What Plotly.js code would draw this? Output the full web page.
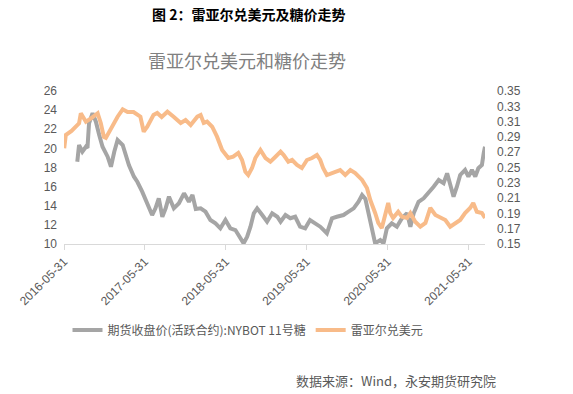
<!DOCTYPE html>
<html><head><meta charset="utf-8">
<script src="https://cdn.plot.ly/plotly-3.0.1.min.js"></script>
<style>body{margin:0;background:#fff}#c{width:573px;height:394px}</style>
</head><body><div id="c"></div>
<script>
const sugarDates = ["2016-07-30","2016-08-07","2016-08-22","2016-09-07","2016-09-14","2016-09-21","2016-10-07","2016-10-22","2016-11-06","2016-11-21","2016-12-14","2016-12-29","2017-01-13","2017-01-28","2017-02-20","2017-03-05","2017-03-20","2017-04-12","2017-04-27","2017-05-19","2017-06-11","2017-07-03","2017-07-18","2017-08-02","2017-08-18","2017-09-02","2017-09-17","2017-10-09","2017-11-01","2017-11-24","2017-12-16","2018-01-01","2018-01-16","2018-02-07","2018-03-01","2018-03-23","2018-04-15","2018-05-07","2018-05-30","2018-06-21","2018-07-14","2018-08-05","2018-08-20","2018-09-05","2018-09-20","2018-10-05","2018-10-20","2018-11-12","2018-12-04","2018-12-27","2019-01-19","2019-02-03","2019-02-25","2019-03-19","2019-04-10","2019-05-02","2019-05-25","2019-06-16","2019-07-09","2019-08-01","2019-08-31","2019-09-23","2019-10-15","2019-11-14","2019-12-07","2019-12-30","2020-01-21","2020-02-06","2020-02-21","2020-03-07","2020-03-22","2020-04-05","2020-04-28","2020-05-13","2020-05-28","2020-06-19","2020-07-12","2020-08-04","2020-08-27","2020-09-11","2020-09-26","2020-10-18","2020-11-10","2020-12-02","2020-12-25","2021-01-17","2021-02-08","2021-02-24","2021-03-10","2021-03-25","2021-04-09","2021-04-24","2021-05-16","2021-05-31","2021-06-16","2021-07-01","2021-07-15","2021-07-31","2021-08-08","2021-08-14"];
const sugarValues = [18.61,20.35,19.65,20.17,20.04,22.62,23.67,22.79,21.40,20.17,19.13,18.08,19.65,20.88,20.35,19.31,18.26,17.04,16.51,15.47,14.26,13.03,13.73,14.78,12.85,13.73,14.95,13.73,14.26,15.30,14.42,15.12,13.66,13.73,13.38,12.51,12.16,11.64,12.51,11.64,11.46,10.60,10.07,10.76,11.81,13.21,13.73,13.03,12.33,13.21,12.85,12.33,13.03,12.69,12.85,11.81,11.64,12.51,12.16,11.81,11.12,12.69,12.85,13.03,13.38,13.73,14.42,15.12,14.71,13.21,11.36,10.07,10.42,10.07,11.64,12.16,11.81,12.69,13.21,11.81,13.21,14.42,14.78,15.30,15.99,16.69,16.35,17.39,15.99,14.95,15.99,17.22,17.74,17.04,17.74,17.04,17.92,18.26,19.48,20.17];
const brlDates = ["2016-06-01","2016-06-08","2016-07-04","2016-08-07","2016-08-15","2016-09-07","2016-09-30","2016-10-30","2016-11-13","2016-11-27","2016-12-06","2016-12-29","2017-01-28","2017-02-20","2017-03-14","2017-04-10","2017-05-11","2017-05-26","2017-06-11","2017-07-09","2017-07-26","2017-08-15","2017-09-10","2017-10-08","2017-11-09","2017-12-01","2017-12-24","2018-01-23","2018-02-07","2018-02-21","2018-03-08","2018-03-31","2018-04-22","2018-05-15","2018-05-30","2018-06-12","2018-07-04","2018-07-27","2018-08-13","2018-08-28","2018-09-10","2018-09-27","2018-10-12","2018-11-04","2018-11-27","2018-12-19","2019-01-11","2019-02-03","2019-02-17","2019-03-10","2019-03-27","2019-04-18","2019-05-10","2019-06-02","2019-06-25","2019-07-17","2019-08-01","2019-08-14","2019-08-31","2019-09-29","2019-10-30","2019-11-22","2019-12-15","2020-01-06","2020-02-06","2020-02-28","2020-03-14","2020-04-05","2020-04-19","2020-05-05","2020-05-20","2020-06-03","2020-06-12","2020-06-25","2020-07-18","2020-08-04","2020-08-27","2020-09-11","2020-10-03","2020-10-26","2020-11-18","2020-12-10","2021-01-02","2021-01-25","2021-02-16","2021-03-10","2021-04-01","2021-04-24","2021-05-16","2021-06-08","2021-06-22","2021-07-08","2021-07-31","2021-08-14"];
const brlValues = [0.2751,0.2925,0.2977,0.3078,0.3209,0.3099,0.3143,0.3209,0.3082,0.2899,0.2886,0.3016,0.3164,0.3261,0.3225,0.3225,0.3164,0.2968,0.3033,0.3186,0.3212,0.3160,0.3229,0.3164,0.3082,0.3121,0.3056,0.3164,0.3186,0.3082,0.3099,0.3033,0.2903,0.2729,0.2663,0.2624,0.2641,0.2690,0.2598,0.2445,0.2402,0.2493,0.2624,0.2729,0.2624,0.2576,0.2641,0.2707,0.2663,0.2576,0.2598,0.2533,0.2493,0.2598,0.2624,0.2663,0.2598,0.2493,0.2402,0.2428,0.2467,0.2402,0.2467,0.2428,0.2337,0.2232,0.2075,0.1905,0.1775,0.1709,0.1857,0.2036,0.1905,0.1840,0.1922,0.1857,0.1840,0.1905,0.1792,0.1726,0.1775,0.1971,0.1879,0.1840,0.1814,0.1726,0.1775,0.1814,0.1905,0.1971,0.2036,0.1922,0.1905,0.1840];
const xTicks = ["2016-05-31","2017-05-31","2018-05-31","2019-05-31","2020-05-31","2021-05-31"];
const leftTicks = [10,12,14,16,18,20,22,24,26];
const rightTicks = [0.15,0.17,0.19,0.21,0.23,0.25,0.27,0.29,0.31,0.33,0.35];

const FONT = "'Liberation Sans','Noto Sans CJK SC',sans-serif";
const CJK = "'Noto Sans CJK SC',sans-serif";
const GRAY_TXT = "#595959";

const traces = [
  {x: sugarDates, y: sugarValues, type: "scatter", mode: "lines", name: "期货收盘价(活跃合约):NYBOT 11号糖",
   line: {color: "#a5a5a5", width: 4}, yaxis: "y"},
  {x: brlDates, y: brlValues, type: "scatter", mode: "lines", name: "雷亚尔兑美元",
   line: {color: "#f8bb89", width: 4}, yaxis: "y2"}
];

const layout = {
  width: 573, height: 394,
  margin: {l: 64, r: 88, t: 91, b: 150},
  paper_bgcolor: "#fff", plot_bgcolor: "#fff",
  font: {family: FONT, color: GRAY_TXT, size: 12},
  showlegend: true,
  title: {text: "雷亚尔兑美元和糖价走势", font: {family: CJK, size: 18, color: "#808080"},
          x: 247/573, xanchor: "center", y: 1 - 62/394, yanchor: "middle"},
  xaxis: {type: "date", range: ["2016-05-31", "2021-08-14"], tickvals: xTicks, ticktext: xTicks,
          tickangle: -45, tickfont: {size: 12, color: GRAY_TXT}, showgrid: false, zeroline: false,
          showline: true, linecolor: "#d9d9d9", linewidth: 1, ticks: "outside", ticklen: 5, tickcolor: "#d9d9d9"},
  yaxis: {range: [10, 26], tickvals: leftTicks, showgrid: false, zeroline: false, showline: false,
          tickfont: {size: 12, color: GRAY_TXT}, ticks: "", ticklabelstandoff: 6},
  yaxis2: {range: [0.15, 0.35], tickvals: rightTicks, tickformat: ".2f", overlaying: "y", side: "right",
           showgrid: false, zeroline: false, showline: false, tickfont: {size: 12, color: GRAY_TXT}, ticks: "",
           ticklabelstandoff: 11},
  legend: {orientation: "h", x: (248-64)/421, xanchor: "center", y: (244-330)/153, yanchor: "middle",
           font: {family: CJK, size: 12, color: GRAY_TXT}, itemwidth: 30, tracegroupgap: 0},
  annotations: [
    {text: "<b>图 2：雷亚尔兑美元及糖价走势</b>", xref: "paper", yref: "paper", x: (248-64)/421, y: (244-14)/153,
     xanchor: "center", yanchor: "middle", showarrow: false, font: {family: CJK, size: 14, color: "#000"}},
    {text: "数据来源：Wind，永安期货研究院", xref: "paper", yref: "paper", x: (498-64)/421, y: (244-380)/153,
     xanchor: "right", yanchor: "middle", showarrow: false, font: {family: CJK, size: 13, color: GRAY_TXT}}
  ]
};

Plotly.newPlot("c", traces, layout, {staticPlot: true, displayModeBar: false});
</script>
</body></html>
